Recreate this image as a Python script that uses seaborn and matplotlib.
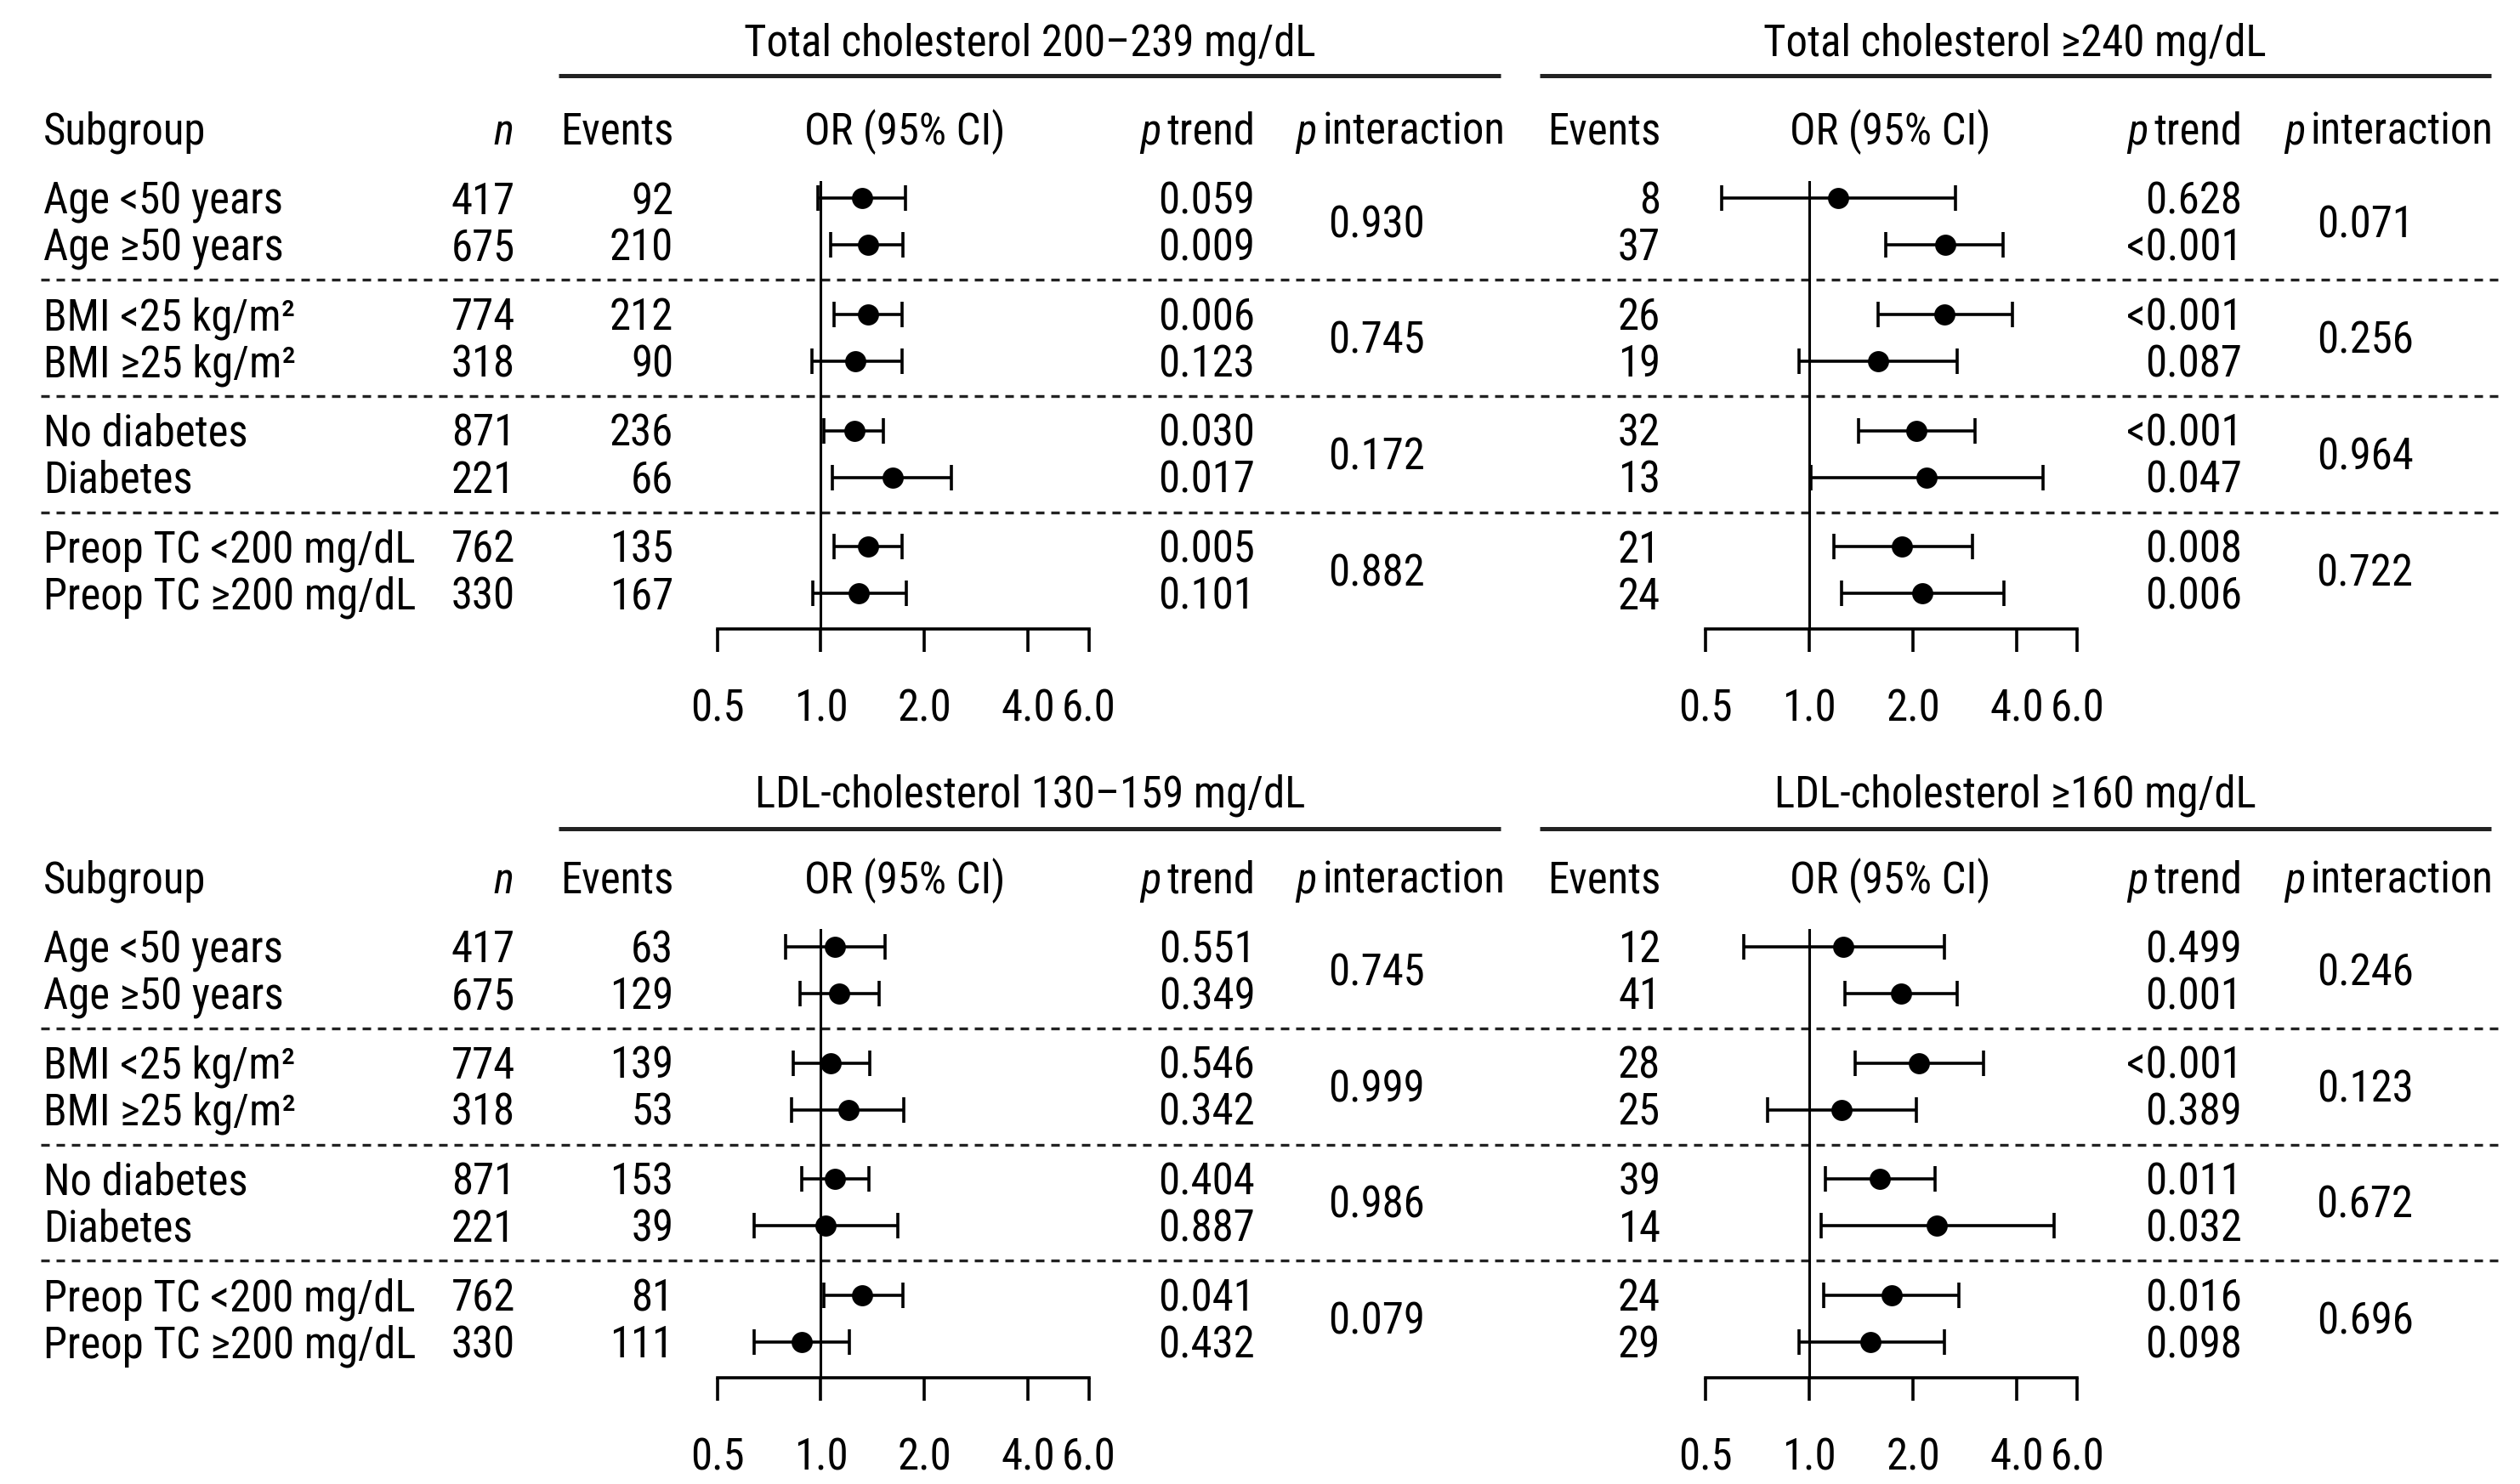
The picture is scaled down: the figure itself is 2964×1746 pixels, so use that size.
import seaborn as sns
import matplotlib.pyplot as plt
import matplotlib.font_manager as fm
import pandas as pd
import numpy as np

# --- data ---
subgroups = ["Age <50 years", "Age \u226550 years", "BMI <25 kg/m\u00b2", "BMI \u226525 kg/m\u00b2",
             "No diabetes", "Diabetes", "Preop TC <200 mg/dL", "Preop TC \u2265200 mg/dL"]
n_total = [417, 675, 774, 318, 871, 221, 762, 330]

titles = ["Total cholesterol 200\u2013239 mg/dL", "Total cholesterol \u2265240 mg/dL",
          "LDL-cholesterol 130\u2013159 mg/dL", "LDL-cholesterol \u2265160 mg/dL"]

events = [
    [92, 210, 212, 90, 236, 66, 135, 167],
    [8, 37, 26, 19, 32, 13, 21, 24],
    [63, 129, 139, 53, 153, 39, 81, 111],
    [12, 41, 28, 25, 39, 14, 24, 29],
]
or_est = [
    [1.32, 1.37, 1.37, 1.26, 1.25, 1.62, 1.37, 1.29],
    [1.21, 2.48, 2.47, 1.58, 2.04, 2.19, 1.86, 2.13],
    [1.10, 1.13, 1.07, 1.20, 1.10, 1.03, 1.32, 0.88],
    [1.25, 1.84, 2.08, 1.24, 1.60, 2.34, 1.73, 1.50],
]
ci_low = [
    [0.98, 1.07, 1.09, 0.94, 1.02, 1.08, 1.09, 0.95],
    [0.555, 1.67, 1.58, 0.93, 1.39, 1.01, 1.18, 1.24],
    [0.79, 0.87, 0.83, 0.82, 0.88, 0.64, 1.02, 0.64],
    [0.645, 1.27, 1.36, 0.755, 1.11, 1.08, 1.10, 0.93],
]
ci_high = [
    [1.76, 1.73, 1.72, 1.72, 1.52, 2.39, 1.72, 1.77],
    [2.65, 3.65, 3.89, 2.69, 3.02, 4.76, 2.97, 3.67],
    [1.54, 1.48, 1.39, 1.74, 1.38, 1.67, 1.73, 1.21],
    [2.46, 2.68, 3.20, 2.04, 2.32, 5.13, 2.72, 2.46],
]
p_trend = [
    ["0.059", "0.009", "0.006", "0.123", "0.030", "0.017", "0.005", "0.101"],
    ["0.628", "<0.001", "<0.001", "0.087", "<0.001", "0.047", "0.008", "0.006"],
    ["0.551", "0.349", "0.546", "0.342", "0.404", "0.887", "0.041", "0.432"],
    ["0.499", "0.001", "<0.001", "0.389", "0.011", "0.032", "0.016", "0.098"],
]
p_inter = [
    ["0.930", "0.745", "0.172", "0.882"],
    ["0.071", "0.256", "0.964", "0.722"],
    ["0.745", "0.999", "0.986", "0.079"],
    ["0.246", "0.123", "0.672", "0.696"],
]
or_ticks = [0.5, 1.0, 2.0, 4.0, 6.0]

# --- styling ---
sns.set_theme(style="white")


def pick_narrow_font():
    # the reference uses a narrow sans; take one if this machine has it
    def regular(f):
        return f.style == "normal" and f.weight in (400, "normal", "regular", "book")
    ttf = fm.fontManager.ttflist
    for name in ["Liberation Sans Narrow", "Arial Narrow", "Roboto Condensed",
                 "Noto Sans Condensed", "Open Sans Condensed", "DejaVu Sans Condensed"]:
        for f in ttf:
            if f.name == name and regular(f):
                return f.name, f.stretch
    for f in ttf:
        low = f.fname.lower()
        if regular(f) and ("condensed" in str(f.stretch) or "narrow" in low or "condensed" in low) \
                and "sans" in low and "mono" not in low and "cjk" not in low and "serif" not in low:
            return f.name, f.stretch
    return None, "normal"


narrow, stretch = pick_narrow_font()
fams = ([narrow] if narrow else []) + ["Liberation Sans", "DejaVu Sans"]
plt.rcParams["font.family"] = fams
plt.rcParams["font.stretch"] = stretch

W, H = 1560, 920  # layout units (reference preview pixels)
DPI = 200
fig = plt.figure(figsize=(14.82, 8.73), dpi=DPI)
PX = W / (14.82 * DPI)  # layout units per pixel
renderer = fig.canvas.get_renderer()

# size the text so the widest subgroup label is about as wide as in the reference
probe = fig.text(0, 0, subgroups[-1], fontsize=10)
FS = min(19.0, 10 * 438 / probe.get_window_extent(renderer).width)
probe.remove()
CAP = FS / 72 * DPI * 0.716 * PX  # cap height in layout units

bg = fig.add_axes([0, 0, 1, 1])
bg.set_xlim(0, W)
bg.set_ylim(H, 0)
bg.axis("off")


def put(x, y, s, ha="left", **kw):
    return bg.text(x, y + CAP / 2, s, ha=ha, va="baseline", fontsize=FS, color="black", **kw)


def width_of(s, **kw):
    t = bg.text(0, 0, s, fontsize=FS, **kw)
    w = t.get_window_extent(renderer).width * PX
    t.remove()
    return w


def put_p(x, y, word, ha):
    # italic "p" followed by a plain word
    wp = width_of("p", style="italic")
    ww = width_of(word)
    gap = 3.5
    total = wp + gap + ww
    left = x - total if ha == "right" else x - total / 2
    put(left, y, "p", style="italic")
    put(left + wp + gap, y, word)


# column positions for the left and right block of each half
blocks = [
    dict(ul=(346, 929), ev=417, orc=560, fx=(444, 674), pt=777, pic=867, piv=852),
    dict(ul=(953, 1542), ev=1028, orc=1170, fx=(1056, 1286), pt=1388, pic=1479, piv=1464),
]

for half in range(2):
    off = 464 * half
    rows = [123 + off + 72 * (i // 2) + 29 * (i % 2) for i in range(8)]
    axis_y = 390 + off
    # subgroup / n columns
    put(27, 80 + off, "Subgroup")
    put(318, 80 + off, "n", ha="right", style="italic")
    for i, lab in enumerate(subgroups):
        put(27, rows[i], lab)
        put(319, rows[i], str(n_total[i]), ha="right")
    # dashed separators
    for k in range(3):
        yd = (rows[2 * k + 1] + rows[2 * k + 2]) / 2
        bg.plot([25, 1548], [yd, yd], color="#222222", lw=1.2, ls=(0, (3, 2.4)))

    for b, blk in enumerate(blocks):
        p = half * 2 + b
        # title and underline
        put((blk["ul"][0] + blk["ul"][1]) / 2, 25 + off + 2 * half, titles[p], ha="center")
        bg.plot(blk["ul"], [47 + off + 3 * half] * 2, color="#222222", lw=1.8,
                solid_capstyle="butt")
        # headers
        put(blk["ev"], 80 + off, "Events", ha="right")
        put(blk["orc"], 80 + off, "OR (95% CI)", ha="center")
        put_p(blk["pt"], 80 + off, "trend", "right")
        put_p(blk["pic"], 80 + off, "interaction", "center")
        for i in range(8):
            put(blk["ev"], rows[i], str(events[p][i]), ha="right")
            put(blk["pt"], rows[i], p_trend[p][i], ha="right")
        for k in range(4):
            put(blk["piv"], (rows[2 * k] + rows[2 * k + 1]) / 2, p_inter[p][k], ha="center")

        # forest plot axes
        x0, x1 = blk["fx"]
        top = 112 + off
        ax = fig.add_axes([x0 / W, 1 - axis_y / H, (x1 - x0) / W, (axis_y - top) / H])
        ax.set_facecolor("none")
        df = pd.DataFrame({"OR": or_est[p], "lo": ci_low[p], "hi": ci_high[p], "row": rows})
        ax.axvline(1.0, color="black", lw=1.1, zorder=1)
        ax.errorbar(df["OR"], df["row"],
                    xerr=[df["OR"] - df["lo"], df["hi"] - df["OR"]],
                    fmt="none", ecolor="black", elinewidth=1.3, capsize=5.5,
                    capthick=1.3, zorder=2, clip_on=False)
        sns.scatterplot(data=df, x="OR", y="row", ax=ax, color="black", s=80,
                        edgecolor="black", linewidth=0, zorder=3, clip_on=False)
        ax.set_xscale("log")
        ax.set_xlim(0.5, 6.0)
        ax.set_ylim(axis_y, top)
        ax.set_xticks(or_ticks)
        ax.set_xticklabels([f"{t:.1f}" for t in or_ticks])
        ax.minorticks_off()
        ax.set_yticks([])
        ax.set_xlabel("")
        ax.set_ylabel("")
        for s in ["left", "top", "right"]:
            ax.spines[s].set_visible(False)
        ax.spines["bottom"].set_linewidth(1.3)
        ax.spines["bottom"].set_color("black")
        ax.tick_params(axis="x", direction="out", length=9.6, width=1.3,
                       pad=15.5, labelsize=FS, colors="black", bottom=True)

plt.savefig("out.png", dpi=DPI)
plt.close()
